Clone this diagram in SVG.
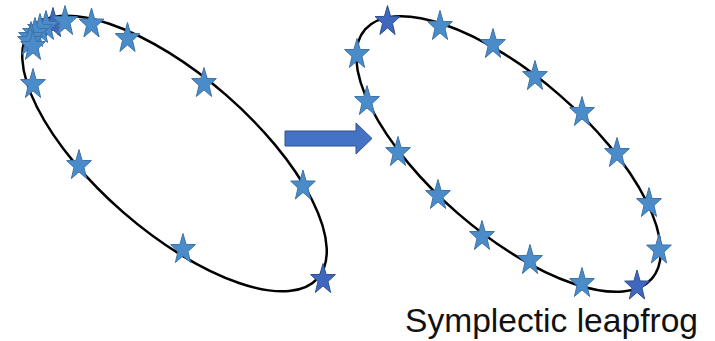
<svg xmlns="http://www.w3.org/2000/svg" xmlns:xlink="http://www.w3.org/1999/xlink" width="715" height="341" viewBox="0 0 715 341">
<style>
.orbit{fill:none;stroke:#000;stroke-width:2.5}
.st{fill:#4A8CCA;stroke:#3F72A6;stroke-width:1}
.sd{fill:#3F67C0;stroke:#2F4F8F;stroke-width:1}
.arrow{fill:#4472C4;stroke:#2F528F;stroke-width:1}
.lbl{font-family:"Liberation Sans",Arial,sans-serif;font-size:34px;fill:#111}
</style>
<defs>
<path id="star" d="M0,-14.5 L3.1,-3.6 L12.4,-3.4 L5,3.5 L7.6,14.5 L0,7.9 L-7.6,14.5 L-5,3.5 L-12.4,-3.4 L-3.1,-3.6 Z"/>
</defs>
<g id="left-orbit">
<ellipse class="orbit" cx="174.5" cy="153.5" rx="190" ry="78" transform="rotate(41 174.5 153.5)"/>
<use href="#star" class="sd" x="53" y="22"/>
<use href="#star" class="st" x="46" y="25"/>
<use href="#star" class="st" x="40" y="28"/>
<use href="#star" class="st" x="35" y="32"/>
<use href="#star" class="st" x="31" y="36"/>
<use href="#star" class="st" x="30" y="40"/>
<use href="#star" class="st" x="33" y="45"/>
<use href="#star" class="st" x="65" y="20"/>
<use href="#star" class="st" x="91.5" y="22.5"/>
<use href="#star" class="st" x="127.5" y="37"/>
<use href="#star" class="st" x="204" y="82"/>
<use href="#star" class="st" x="33" y="83"/>
<use href="#star" class="st" x="79" y="164"/>
<use href="#star" class="st" x="303" y="184.5"/>
<use href="#star" class="st" x="183" y="248"/>
<use href="#star" class="sd" x="323" y="278"/>
</g>
<g id="right-orbit">
<ellipse class="orbit" cx="508.5" cy="154" rx="190" ry="78" transform="rotate(41 508.5 154)"/>
<use href="#star" class="sd" x="387.5" y="20"/>
<use href="#star" class="st" x="440" y="25"/>
<use href="#star" class="st" x="493" y="43"/>
<use href="#star" class="st" x="535" y="75"/>
<use href="#star" class="st" x="582" y="111"/>
<use href="#star" class="st" x="617" y="152"/>
<use href="#star" class="st" x="649" y="202"/>
<use href="#star" class="st" x="659" y="248.5"/>
<use href="#star" class="sd" x="637" y="284.5"/>
<use href="#star" class="st" x="582" y="282"/>
<use href="#star" class="st" x="530" y="259"/>
<use href="#star" class="st" x="482" y="235"/>
<use href="#star" class="st" x="438" y="194"/>
<use href="#star" class="st" x="398" y="151"/>
<use href="#star" class="st" x="367" y="100"/>
<use href="#star" class="st" x="357" y="53"/>
</g>
<g id="connectors">
<path id="step-arrow" class="arrow" d="M285,131 H356 V123 L372,138.5 L356,154 V146 H285 Z"/>
</g>
<g id="label">
<text class="lbl" x="405" y="332" textLength="293" lengthAdjust="spacingAndGlyphs">Symplectic leapfrog</text>
</g>
</svg>
